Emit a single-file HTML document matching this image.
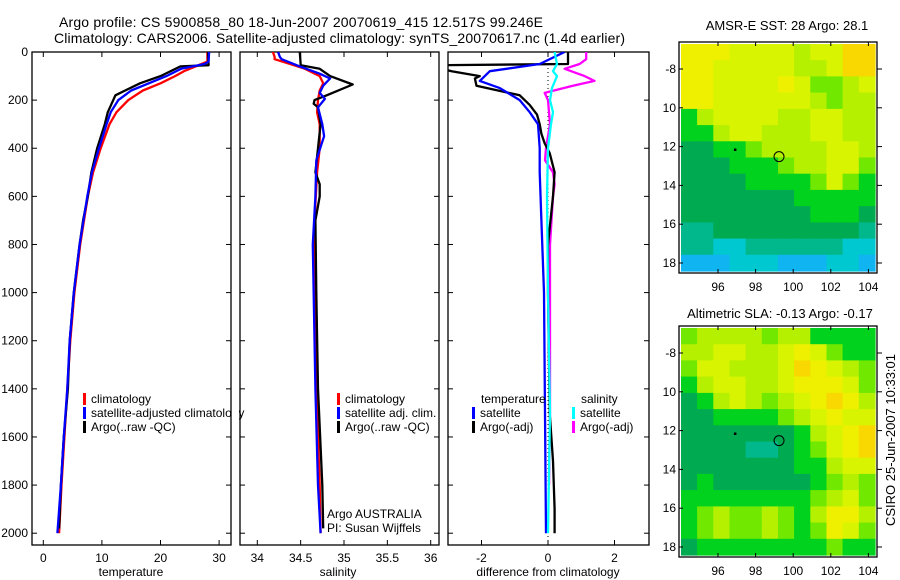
<!DOCTYPE html>
<html><head><meta charset="utf-8"><style>
html,body{margin:0;padding:0;background:#fff;}
svg{display:block;font-family:"Liberation Sans",sans-serif;}
</style></head><body>
<svg id="fig" width="900" height="580" viewBox="0 0 900 580" xmlns="http://www.w3.org/2000/svg">
<rect width="900" height="580" fill="#fff"/>
<text x="59" y="27" font-size="14" textLength="484">Argo profile: CS 5900858_80 18-Jun-2007 20070619_415 12.517S 99.246E</text>
<text x="54" y="43" font-size="14" textLength="571">Climatology: CARS2006. Satellite-adjusted climatology: synTS_20070617.nc (1.4d earlier)</text>
<defs>
<clipPath id="c1"><rect x="32" y="52" width="199" height="493"/></clipPath>
<clipPath id="c2"><rect x="240" y="52" width="199" height="493"/></clipPath>
<clipPath id="c3"><rect x="448" y="52" width="201" height="493"/></clipPath>
</defs>
<g id="p1"></g>
<g id="p2"></g>
<g id="p3"></g>
<g id="m1"></g>
<g id="m2"></g>
<text x="787" y="30" font-size="13" text-anchor="middle">AMSR-E SST: 28 Argo: 28.1</text>
<text x="780" y="318" font-size="13" text-anchor="middle">Altimetric SLA: -0.13 Argo: -0.17</text>
<text transform="translate(895,440) rotate(-90)" font-size="13" text-anchor="middle">CSIRO 25-Jun-2007 10:33:01</text>
</svg>
<script>
// ---- profile data (depth m, value) ----
const depthTicks = [0,200,400,600,800,1000,1200,1400,1600,1800,2000];
const tempTicks = [0,10,20,30];
const salTicks = [34,34.5,35,35.5,36];
const diffTicks = [-2,0,2];

const tClimD = [0,40,50,80,100,130,160,200,250,300,400,500,600,800,1000,1200,1400,1600,1800,2000];
const tClimV = [28.0,28.0,27.0,24,22.5,20,17,14.5,12.5,11.3,9.8,8.5,7.6,6.3,5.3,4.6,4.1,3.6,3.1,2.7];
const tSatD = [0,40,50,70,100,130,160,200,250,300,400,500,600,800,1000,1200,1400,1600,1800,2000];
const tSatV = [28.3,28.2,27.5,23.5,21,18,15,12.8,11.5,10.8,9.5,8.3,7.5,6.2,5.2,4.5,4.1,3.5,3.0,2.4];
const tArgoD = [0,55,60,100,130,180,250,300,400,500,600,700,800,1000,1200,1400,1600,1800,1980];
const tArgoV = [28.1,28.2,23.4,20,16.5,12.3,11,10.5,9.2,8.2,7.6,6.8,6.2,5.2,4.5,4.2,3.5,3.0,2.7];

const sClimD = [0,20,30,50,70,100,130,160,200,250,300,400,500,700,1000,1400,1800,2000];
const sClimV = [34.18,34.2,34.2,34.38,34.55,34.72,34.76,34.72,34.70,34.69,34.72,34.72,34.69,34.66,34.67,34.68,34.72,34.73];
const sSatD = [0,20,30,60,90,110,140,170,195,230,300,350,450,600,800,1400,1800,2000];
const sSatV = [34.24,34.26,34.28,34.49,34.72,34.84,34.76,34.72,34.78,34.70,34.75,34.77,34.68,34.67,34.64,34.67,34.70,34.73];
const sArgoD = [0,55,70,100,135,180,200,215,230,300,400,500,550,600,700,1000,1400,1800,1980];
const sArgoV = [34.49,34.5,34.72,34.84,35.10,34.8,34.66,34.65,34.7,34.73,34.70,34.67,34.72,34.72,34.67,34.68,34.70,34.75,34.76];

const dTSatD = [0,50,80,120,150,200,250,300,400,500,700,1000,1500,2000];
const dTSatV = [0.5,-0.25,-1.75,-2.05,-1.45,-0.85,-0.55,-0.3,-0.25,-0.25,-0.2,-0.12,-0.09,-0.06];
const dTArgoD = [0,50,55,70,80,100,110,140,180,220,260,300,340,380,420,500,600,800,1000,1500,1700,1900,2000];
const dTArgoV = [0.6,0.6,-3.2,-3.2,-2.9,-2.05,-2.2,-2.15,-0.85,-0.55,-0.33,-0.25,-0.2,-0.1,0.05,0.2,0.15,0.0,0.0,0.05,0.15,0.2,0.2];
const dSSatD = [0,50,80,100,150,200,250,300,400,600,1000,1500,2000];
const dSSatV = [0.2,0.27,0.15,0.27,0.12,0.06,0.15,0.09,0.0,-0.03,0.0,0.06,0.0];
const dSArgoD = [0,30,50,70,100,120,140,170,200,300,400,450,500,550,600,800,1500,1800];
const dSArgoV = [1.15,1.15,0.95,0.5,1.1,1.4,0.75,-0.1,0.0,0.06,-0.06,-0.09,0.15,0.2,0.15,0.06,0.06,0.03];

// ---- map data (colour index 0..10), rows north->south, cols west->east ----
const sstGrid = [
[9,9,9,8,8,8,8,7,8,8,10,10],
[9,9,8,8,8,8,8,7,7,8,10,10],
[9,9,8,8,8,8,9,8,6,6,7,8],
[9,9,8,8,8,8,8,8,7,6,7,7],
[5,7,8,8,8,8,7,7,8,8,7,7],
[5,5,7,8,8,7,7,7,8,8,7,7],
[4,4,5,5,6,7,7,7,7,8,8,7],
[4,4,4,5,5,5,6,7,7,8,8,6],
[4,4,4,4,5,5,5,5,6,8,6,5],
[4,4,4,4,4,4,4,5,5,5,5,5],
[4,4,4,4,4,4,4,4,5,5,5,4],
[3,3,4,4,4,4,4,4,4,4,4,3],
[3,3,2,2,3,3,3,3,3,3,2,2],
[1,1,1,2,2,2,1,1,1,2,2,1]];
const slaGrid = [
[6,7,7,7,7,6,7,7,5,5,5,5],
[7,7,8,8,7,7,8,9,8,6,5,5],
[6,8,8,7,7,7,8,10,9,8,7,6],
[5,7,8,8,7,7,8,9,9,9,8,6],
[4,5,7,8,7,6,7,8,9,10,9,7],
[4,4,5,5,5,5,6,7,8,9,8,8],
[4,4,4,4,4,4,4,5,7,8,9,10],
[4,4,4,4,3,3,4,5,6,8,9,10],
[4,4,4,4,4,4,4,5,5,7,8,8],
[4,5,4,4,4,4,4,4,5,6,7,6],
[5,5,5,5,5,5,5,5,6,7,8,6],
[5,6,7,6,6,7,6,5,7,9,9,7],
[5,6,7,6,6,7,6,5,6,9,8,6],
[4,5,5,5,5,5,5,5,5,6,5,5]];
const palette = ['#0050f0','#10b4f0','#00c8d0','#00b88c','#00aa50','#00d21e','#70e800','#b4f000','#d8f400','#eef000','#f8d800'];
const lonTicks = [96,98,100,102,104];
const latTicks = [-8,-10,-12,-14,-16,-18];
const latLabels = ['-8','10','12','14','16','18'];
const argoLon = 99.246, argoLat = -12.517;
const dotLon = 96.9, dotLat = -12.15;

const NS='http://www.w3.org/2000/svg';
function mk(parent, tag, attrs){const e=document.createElementNS(NS,tag);for(const k in attrs)e.setAttribute(k,attrs[k]);parent.appendChild(e);return e;}
const yD = d => 52 + d*0.2406;
const xT = v => 43.3 + v*5.86;
const xS = v => 257.3 + (v-34)*86.7;
const xDf = v => 548 + v*33.25;

function frame(g, x0, x1, y0, y1, name){
  const r = mk(g,'rect',{x:x0,y:y0,width:x1-x0,height:y1-y0,fill:'none',stroke:'#000','stroke-width':1.3});
  
  
}
function xTicks(g, ticks, sx, y0, y1, labelY, name){
  ticks.forEach(t=>{
    const x=sx(t);
    mk(g,'line',{x1:x,x2:x,y1:y0,y2:y0+5,stroke:'#000'});
    mk(g,'line',{x1:x,x2:x,y1:y1,y2:y1-5,stroke:'#000'});
    const tx=mk(g,'text',{x:x,y:labelY,'font-size':12,'text-anchor':'middle'});
    tx.textContent=t;
    
    
  });
}
function yTicks(g, x0, x1){
  depthTicks.forEach(d=>{const y=yD(d);
    mk(g,'line',{x1:x0,x2:x0+5,y1:y,y2:y,stroke:'#000'});
    mk(g,'line',{x1:x1,x2:x1-5,y1:y,y2:y,stroke:'#000'});});
}
function line(g, D, V, sx, col, clip, name, w){
  const pts = D.map((d,i)=>sx(V[i]).toFixed(1)+','+yD(d).toFixed(1)).join(' ');
  const p = mk(g,'polyline',{points:pts,fill:'none',stroke:col,'stroke-width':w||2.3,'clip-path':'url(#'+clip+')','stroke-linejoin':'round'});
  
  
}
function legend(g, x, y, col, txt, name){
  mk(g,'rect',{x:x,y:y-10,width:3,height:12,fill:col});
  const t=mk(g,'text',{x:x+8,y:y,'font-size':12});
  t.textContent=txt;
  
  
}

// Panel 1
const p1=document.getElementById('p1');
frame(p1,32,231,52,545,'temperature-axes-frame');
yTicks(p1,32,231);
xTicks(p1,tempTicks,xT,52,545,562,'temperature-tick-label');
depthTicks.forEach(d=>{const t=mk(p1,'text',{x:28,y:yD(d)+4,'font-size':12,'text-anchor':'end'});t.textContent=d;
  
  });
line(p1,tClimD,tClimV,xT,'#ff0000','c1','temp-climatology-line');
line(p1,tArgoD,tArgoV,xT,'#000000','c1','temp-argo-line');
line(p1,tSatD,tSatV,xT,'#0000ff','c1','temp-satellite-line');
legend(p1,83,403,'#ff0000','climatology','legend-climatology');
legend(p1,83,417,'#0000ff','satellite-adjusted climatology','legend-satellite-adjusted');
legend(p1,83,431,'#000000','Argo(..raw -QC)','legend-argo');
mk(p1,'rect',{x:232,y:395,width:7,height:40,fill:'#fff'});
{const t=mk(p1,'text',{x:131,y:576,'font-size':12,'text-anchor':'middle'});t.textContent='temperature';
 }

// Panel 2
const p2=document.getElementById('p2');
frame(p2,240,439,52,545,'salinity-axes-frame');
yTicks(p2,240,439);
xTicks(p2,salTicks,xS,52,545,562,'salinity-tick-label');
line(p2,sClimD,sClimV,xS,'#ff0000','c2','sal-climatology-line');
line(p2,sArgoD,sArgoV,xS,'#000000','c2','sal-argo-line');
line(p2,sSatD,sSatV,xS,'#0000ff','c2','sal-satellite-line');
legend(p2,337,403,'#ff0000','climatology','legend-sal-climatology');
legend(p2,337,417,'#0000ff','satellite adj. clim.','legend-sal-satellite');
legend(p2,337,431,'#000000','Argo(..raw -QC)','legend-sal-argo');
{const t=mk(p2,'text',{x:327,y:518,'font-size':12});t.textContent='Argo AUSTRALIA';
 
 const u=mk(p2,'text',{x:327,y:532,'font-size':12});u.textContent='PI: Susan Wijffels';
 
 const v=mk(p2,'text',{x:338,y:576,'font-size':12,'text-anchor':'middle'});v.textContent='salinity';
 }

// Panel 3
const p3=document.getElementById('p3');
frame(p3,448,649,52,545,'difference-axes-frame');
yTicks(p3,448,649);
xTicks(p3,diffTicks,xDf,52,545,562,'difference-tick-label');
mk(p3,'line',{x1:xDf(0),x2:xDf(0),y1:52,y2:545,stroke:'#000','stroke-dasharray':'1,3'});
line(p3,dSArgoD,dSArgoV,xDf,'#ff00ff','c3','sal-argo-diff-line');
line(p3,dTArgoD,dTArgoV,xDf,'#000000','c3','temp-argo-diff-line');
line(p3,dTSatD,dTSatV,xDf,'#0000ff','c3','temp-satellite-diff-line');
line(p3,dSSatD,dSSatV,xDf,'#00ffff','c3','sal-satellite-diff-line');
{const t=mk(p3,'text',{x:481,y:403,'font-size':12});t.textContent='temperature';
 
 const u=mk(p3,'text',{x:581,y:403,'font-size':12});u.textContent='salinity';
 }
legend(p3,472,417,'#0000ff','satellite','legend-temp-satellite');
legend(p3,472,431,'#000000','Argo(-adj)','legend-temp-argo');
legend(p3,572,417,'#00ffff','satellite','legend-sal-satellite-diff');
legend(p3,572,431,'#ff00ff','Argo(-adj)','legend-sal-argo-diff');
{const t=mk(p3,'text',{x:548,y:576,'font-size':12,'text-anchor':'middle'});t.textContent='difference from climatology';
 }

// Maps
function drawMap(id, grid, yTop, y8, prefix){
  const g=document.getElementById(id);
  const mx = lon => 718 + (lon-96)*18.8;
  const my = lat => y8 + (-8-lat)*19.4;
  const lon0=94.03, lon1=104.35, lat0=-8+(y8-(yTop+2))/19.4, lat1=-8-((yTop+229)-y8)/19.4;
  const nr=grid.length, nc=grid[0].length;
  const dlon=(lon1-lon0)/nc, dlat=(lat0-lat1)/nr;
  grid.forEach((row,r)=>row.forEach((v,c)=>{
    const x=mx(lon0+c*dlon), y=my(lat0-r*dlat);
    const cell=mk(g,'rect',{x:x.toFixed(1),y:y.toFixed(1),width:(dlon*18.8+0.6).toFixed(1),height:(dlat*19.4+0.6).toFixed(1),fill:palette[v]});
    
    
  }));
  const f=mk(g,'rect',{x:679,y:yTop,width:198,height:231,fill:'none',stroke:'#000','stroke-width':1.3});
  
  
  lonTicks.forEach(l=>{const x=mx(l);
    mk(g,'line',{x1:x,x2:x,y1:yTop,y2:yTop+4,stroke:'#000'});
    mk(g,'line',{x1:x,x2:x,y1:yTop+231,y2:yTop+227,stroke:'#000'});
    const t=mk(g,'text',{x:x,y:yTop+249,'font-size':12,'text-anchor':'middle'});t.textContent=l;
    
    });
  latTicks.forEach((l,i)=>{const y=my(l);
    mk(g,'line',{x1:679,x2:683,y1:y,y2:y,stroke:'#000'});
    mk(g,'line',{x1:877,x2:882,y1:y,y2:y,stroke:'#000'});
    const t=mk(g,'text',{x:676,y:y+4,'font-size':12,'text-anchor':'end'});t.textContent=latLabels[i];
    
    });
  const c=mk(g,'circle',{cx:mx(argoLon),cy:my(argoLat),r:5,fill:'none',stroke:'#000','stroke-width':1});
  
  
  const d=mk(g,'rect',{x:mx(dotLon)-1,y:my(dotLat)-1,width:2.5,height:2.5,fill:'#000'});
  
  
}
drawMap('m1', sstGrid, 42, 69, 'sst-map');
drawMap('m2', slaGrid, 326, 353, 'sla-map');
</script>
</body></html>
